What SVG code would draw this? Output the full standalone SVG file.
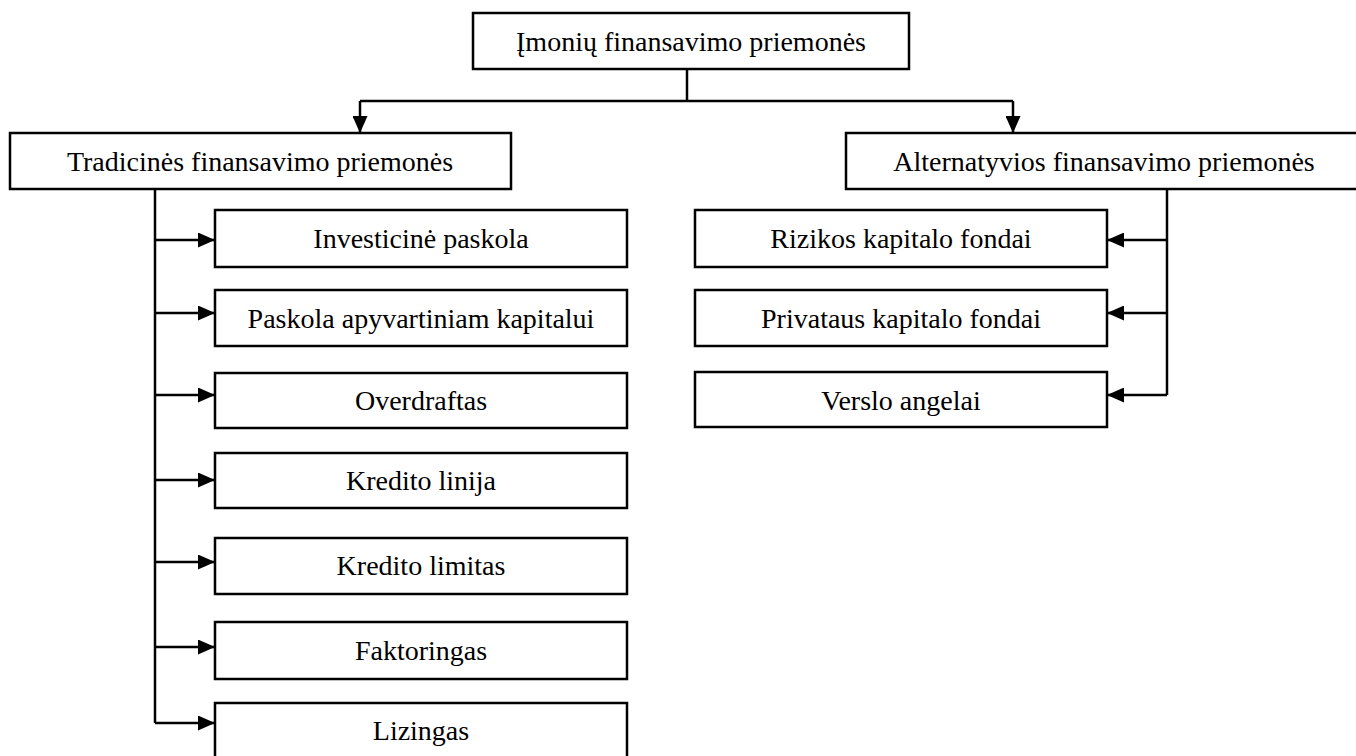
<svg xmlns="http://www.w3.org/2000/svg" width="1356" height="756" viewBox="0 0 1356 756">
  <style>
    .box { fill: #ffffff; stroke: #000000; stroke-width: 2.5; }
    .lbl { font-family: "Liberation Serif", "Times New Roman", serif; font-size: 28px; fill: #000000; text-anchor: middle; }
    .wire { fill: none; stroke: #000000; stroke-width: 2.5; }
  </style>
  <defs>
    <marker id="head" viewBox="0 0 17 15" refX="17" refY="7.5" markerWidth="17" markerHeight="15" markerUnits="userSpaceOnUse" orient="auto">
      <path d="M0,0 L17,7.5 L0,15 Z" fill="#000000"/>
    </marker>
  </defs>

  <rect width="1356" height="756" fill="#ffffff"/>

  <!-- connectors -->
  <g id="connectors">
    <path class="wire" d="M687,69 V101"/>
    <path class="wire" d="M360,101 H1013"/>
    <path class="wire" d="M360,101 V133" marker-end="url(#head)"/>
    <path class="wire" d="M1013,101 V133" marker-end="url(#head)"/>

    <path class="wire" d="M155,189 V723"/>
    <path class="wire" d="M155,240 H215" marker-end="url(#head)"/>
    <path class="wire" d="M155,313 H215" marker-end="url(#head)"/>
    <path class="wire" d="M155,395 H215" marker-end="url(#head)"/>
    <path class="wire" d="M155,480 H215" marker-end="url(#head)"/>
    <path class="wire" d="M155,562 H215" marker-end="url(#head)"/>
    <path class="wire" d="M155,647 H215" marker-end="url(#head)"/>
    <path class="wire" d="M155,723 H215" marker-end="url(#head)"/>

    <path class="wire" d="M1167,189 V395"/>
    <path class="wire" d="M1167,240 H1107" marker-end="url(#head)"/>
    <path class="wire" d="M1167,313 H1107" marker-end="url(#head)"/>
    <path class="wire" d="M1167,395 H1107" marker-end="url(#head)"/>
  </g>

  <!-- root -->
  <g id="root">
    <rect class="box" x="473" y="13" width="436" height="56"/>
    <text class="lbl" x="691" y="51">Įmonių finansavimo priemonės</text>
  </g>

  <!-- branches -->
  <g id="traditional">
    <rect class="box" x="10" y="133" width="501" height="56"/>
    <text class="lbl" x="260" y="171">Tradicinės finansavimo priemonės</text>
  </g>
  <g id="alternative">
    <rect class="box" x="846" y="133" width="520" height="56"/>
    <text class="lbl" x="1104" y="171">Alternatyvios finansavimo priemonės</text>
  </g>

  <!-- traditional instruments -->
  <g id="investicine-paskola">
    <rect class="box" x="215" y="210" width="412" height="57"/>
    <text class="lbl" x="421" y="248">Investicinė paskola</text>
  </g>
  <g id="paskola-apyvartiniam">
    <rect class="box" x="215" y="290" width="412" height="56"/>
    <text class="lbl" x="421" y="328">Paskola apyvartiniam kapitalui</text>
  </g>
  <g id="overdraftas">
    <rect class="box" x="215" y="373" width="412" height="55"/>
    <text class="lbl" x="421" y="410">Overdraftas</text>
  </g>
  <g id="kredito-linija">
    <rect class="box" x="215" y="453" width="412" height="55"/>
    <text class="lbl" x="421" y="490">Kredito linija</text>
  </g>
  <g id="kredito-limitas">
    <rect class="box" x="215" y="538" width="412" height="56"/>
    <text class="lbl" x="421" y="575">Kredito limitas</text>
  </g>
  <g id="faktoringas">
    <rect class="box" x="215" y="622" width="412" height="57"/>
    <text class="lbl" x="421" y="660">Faktoringas</text>
  </g>
  <g id="lizingas">
    <rect class="box" x="215" y="703" width="412" height="60"/>
    <text class="lbl" x="421" y="740">Lizingas</text>
  </g>

  <!-- alternative instruments -->
  <g id="rizikos-kapitalas">
    <rect class="box" x="695" y="210" width="412" height="57"/>
    <text class="lbl" x="901" y="248">Rizikos kapitalo fondai</text>
  </g>
  <g id="privataus-kapitalas">
    <rect class="box" x="695" y="290" width="412" height="56"/>
    <text class="lbl" x="901" y="328">Privataus kapitalo fondai</text>
  </g>
  <g id="verslo-angelai">
    <rect class="box" x="695" y="372" width="412" height="55"/>
    <text class="lbl" x="901" y="410">Verslo angelai</text>
  </g>
</svg>
